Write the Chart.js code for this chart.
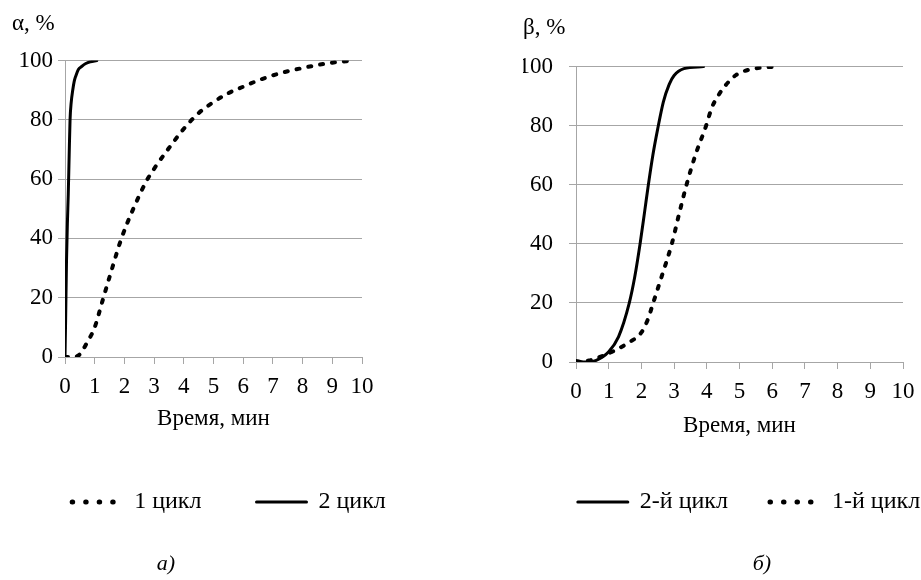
<!DOCTYPE html>
<html>
<head>
<meta charset="UTF-8">
<title>Кинетика</title>
<script src="https://cdn.jsdelivr.net/npm/chart.js"></script>
<style>
    body { margin: 0; background: #fff; overflow: hidden; width: 921px; height: 580px; }
    .box { position: absolute; top: 0; height: 580px; }
    #boxA { left: 0; width: 460px; }
    #boxB { left: 460px; width: 520px; }
</style>
</head>
<body>

<div class="box" id="boxA"><canvas id="grafA"></canvas></div>
<div class="box" id="boxB"><canvas id="grafB"></canvas></div>

<script>
// а) α, %
const timeA1 = [0, 0.2, 0.45, 0.75, 1, 1.25, 1.5, 1.9, 2.3, 2.75, 3, 3.5, 4, 4.5, 5, 5.5, 6, 6.5, 7, 7.5, 8, 8.5, 9, 9.7];
const alphaCycle1 = [0, 0, 0.5, 5, 10, 18.5, 27, 40, 50, 59.5, 63.5, 70.5, 77, 82.3, 86, 89, 91.2, 93.3, 95, 96.4, 97.5, 98.5, 99.3, 100];
const timeA2 = [0, 0.02, 0.05, 0.08, 0.11, 0.14, 0.17, 0.21, 0.26, 0.31, 0.37, 0.45, 0.56, 0.7, 0.85, 1.07];
const alphaCycle2 = [0, 12, 32, 45, 55, 68, 80, 86, 90, 93, 95, 97, 98, 99, 99.6, 100];

// б) β, %
const timeB2 = [0, 0.3, 0.6, 1, 1.3, 1.63, 1.8, 1.96, 2.1, 2.2, 2.35, 2.5, 2.67, 2.85, 3, 3.3, 3.9];
const betaCycle2 = [0.5, 0, 0.5, 3.5, 8.5, 20, 29, 40, 51, 59, 70, 79, 88, 94, 97, 99.3, 100];
const timeB1 = [0, 0.4, 0.8, 1.2, 1.6, 2, 2.2, 2.36, 2.65, 2.93, 3.15, 3.38, 3.65, 3.98, 4.15, 4.34, 4.6, 4.9, 5.3, 5.73, 6.2];
const betaCycle1 = [0, 0.5, 2, 4, 6.5, 10, 14.5, 20, 30, 40, 50, 60, 70, 80, 86, 90, 94, 97.2, 99, 99.7, 100];

const xTicks = [0, 1, 2, 3, 4, 5, 6, 7, 8, 9, 10];
const yTicks = [0, 20, 40, 60, 80, 100];

const fontName = 'Liberation Serif';
Chart.defaults.font.family = fontName;
Chart.defaults.color = '#000';

const grey = '#a6a6a6';

function pts(xs, ys) {
    return xs.map((x, i) => ({ x: x, y: ys[i] }));
}

function dotted(label, data) {
    return {
        label: label, data: data,
        borderColor: '#000', backgroundColor: '#000',
        borderWidth: 4, borderDash: [3, 9], borderCapStyle: 'round',
        pointRadius: 0, cubicInterpolationMode: 'monotone'
    };
}

function solid(label, data) {
    return {
        label: label, data: data,
        borderColor: '#000', backgroundColor: '#000',
        borderWidth: 3, borderCapStyle: 'round',
        pointRadius: 0, cubicInterpolationMode: 'monotone'
    };
}

// legend samples: round dots for the dotted series, a plain line for the solid one
function legendItems(chart) {
    return chart.data.datasets.map((ds, i) => ({
        text: ds.label,
        datasetIndex: i,
        strokeStyle: '#000',
        fillStyle: '#000',
        fontColor: '#000',
        lineWidth: ds.borderDash ? 5 : ds.borderWidth,
        lineDash: ds.borderDash ? [0.5, 13] : [],
        lineCap: 'round',
        pointStyle: 'line',
        hidden: false
    }));
}

// panel letter under the legend
const panelSign = {
    id: 'panelSign',
    afterDraw(chart, args, o) {
        const ctx = chart.ctx;
        ctx.save();
        ctx.font = 'italic 22px "' + fontName + '"';
        ctx.fillStyle = '#000';
        ctx.textAlign = 'center';
        ctx.textBaseline = 'middle';
        ctx.fillText(o.text, o.x, o.y);
        ctx.restore();
    }
};

function opts(cfg) {
    return {
        responsive: true,
        maintainAspectRatio: false,
        animation: false,
        layout: { padding: { left: cfg.padLeft, right: cfg.padRight, top: 0, bottom: 56 } },
        scales: {
            x: {
                type: 'linear', min: 0, max: 10,
                afterBuildTicks: s => { s.ticks = xTicks.map(v => ({ value: v })); },
                afterFit: s => { s.height = cfg.xHeight; },
                grid: { drawOnChartArea: false, drawTicks: true, tickLength: 7, color: grey },
                border: { color: grey },
                ticks: { font: { family: fontName, size: 23 }, padding: 9, maxRotation: 0 },
                title: { display: true, text: 'Время, мин', font: { family: fontName, size: 23 }, padding: { top: 0, bottom: cfg.xTitlePad } }
            },
            y: {
                type: 'linear', min: 0, max: 100,
                afterBuildTicks: s => { s.ticks = yTicks.map(v => ({ value: v })); },
                afterFit: s => { s.width = cfg.yWidth; },
                grid: { color: grey, tickLength: 7 },
                border: { color: grey },
                ticks: { font: { family: fontName, size: 23 }, padding: cfg.yPad }
            },
            spare: {
                type: 'linear', position: 'right', display: true,
                grid: { display: false }, border: { display: false },
                ticks: { display: false },
                afterFit: s => { s.width = cfg.spareWidth; }
            }
        },
        plugins: {
            tooltip: { enabled: false },
            title: {
                display: true, text: cfg.title, align: 'start',
                font: { family: fontName, size: 23, weight: 'normal' },
                padding: { top: cfg.titleTop, bottom: cfg.titleBottom }
            },
            legend: {
                position: 'bottom',
                labels: {
                    usePointStyle: true, pointStyleWidth: 50,
                    generateLabels: legendItems,
                    font: { family: fontName, size: 24, weight: 'normal' }, padding: cfg.legendPad
                }
            },
            panelSign: { text: cfg.sign, x: cfg.signX, y: 564 }
        }
    };
}

new Chart(document.getElementById('grafA'), {
    type: 'line',
    plugins: [panelSign],
    data: {
        datasets: [
            dotted('1 цикл', pts(timeA1, alphaCycle1)),
            solid('2 цикл', pts(timeA2, alphaCycle2))
        ]
    },
    options: opts({
        title: 'α, %', padLeft: 12, padRight: 14, yWidth: 53, yPad: 5, spareWidth: 84,
        legendPad: 55, xHeight: 78, xTitlePad: 2, titleTop: 10, titleBottom: 23,
        sign: 'а)', signX: 166
    })
});

new Chart(document.getElementById('grafB'), {
    type: 'line',
    plugins: [panelSign],
    data: {
        datasets: [
            solid('2-й цикл', pts(timeB2, betaCycle2)),
            dotted('1-й цикл', pts(timeB1, betaCycle1))
        ]
    },
    options: opts({
        title: 'β, %', padLeft: 63, padRight: 5, yWidth: 53, yPad: 16, spareWidth: 72,
        legendPad: 42, xHeight: 86, xTitlePad: 8, titleTop: 14, titleBottom: 25,
        sign: 'б)', signX: 302
    })
});
</script>
</body>
</html>
